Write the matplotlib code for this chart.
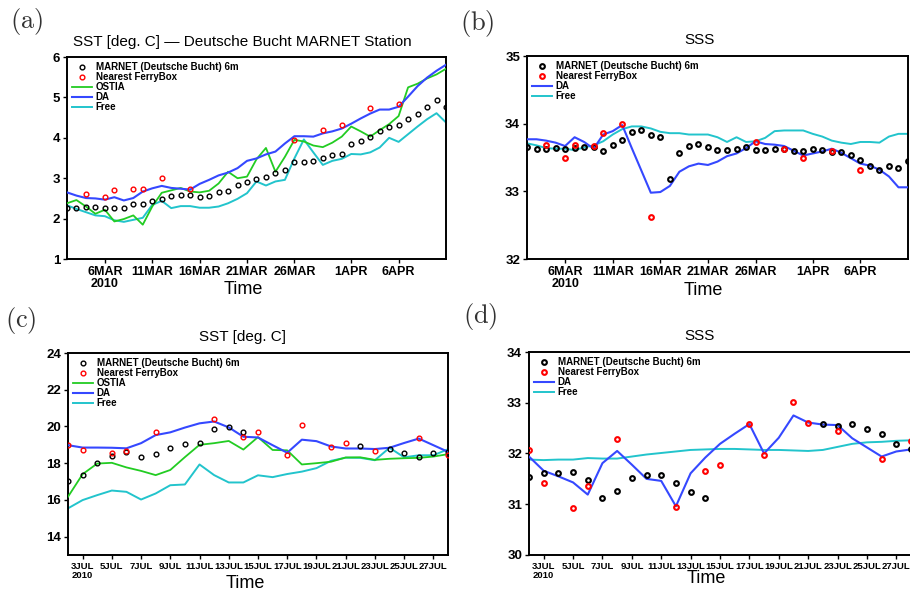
import numpy as np
import matplotlib.pyplot as plt

plt.rcParams['mathtext.fontset'] = 'cm'
plt.rcParams['font.family'] = ['Liberation Sans', 'DejaVu Sans']

# time axes
spring_days = np.arange(np.datetime64('2010-03-02'), np.datetime64('2010-04-12'))
summer_days = np.arange(np.datetime64('2010-07-02'), np.datetime64('2010-07-29'))

spring_ticks = np.array(['2010-03-06', '2010-03-11', '2010-03-16', '2010-03-21',
                         '2010-03-26', '2010-04-01', '2010-04-06'], dtype='datetime64[D]')
spring_labels = ['6MAR\n2010', '11MAR', '16MAR', '21MAR', '26MAR', '1APR', '6APR']
summer_ticks = np.arange(np.datetime64('2010-07-03'), np.datetime64('2010-07-28'), 2)
summer_labels = ['3JUL\n2010', '5JUL', '7JUL', '9JUL', '11JUL', '13JUL', '15JUL', '17JUL',
                 '19JUL', '21JUL', '23JUL', '25JUL', '27JUL']

# (a) SST, March-April
sst_a_marnet = [2.26, 2.26, 2.28, 2.29, 2.27, 2.27, 2.27, 2.37, 2.37, 2.44, 2.49, 2.57, 2.59, 2.59,
                2.53, 2.57, 2.65, 2.68, 2.83, 2.90, 2.97, 3.02, 3.13, 3.21, 3.39, 3.39, 3.43, 3.51,
                3.58, 3.60, 3.85, 3.91, 4.03, 4.16, 4.28, 4.33, 4.46, 4.58, 4.77, 4.93, 4.77]
ferry_spring_idx = [2, 4, 5, 7, 8, 10, 13, 24, 27, 29, 32, 35]
sst_a_ferry = [2.60, 2.54, 2.72, 2.74, 2.74, 3.01, 2.74, 3.94, 4.19, 4.33, 4.74, 4.85]
sst_a_ostia = [2.38, 2.46, 2.30, 2.12, 2.22, 1.93, 1.99, 2.08, 1.85, 2.30, 2.64, 2.70, 2.76, 2.67,
               2.65, 2.69, 2.87, 3.16, 3.00, 3.04, 3.47, 3.75, 3.16, 3.53, 3.95, 3.91, 3.81, 3.77,
               3.88, 4.03, 4.28, 4.16, 4.03, 4.19, 4.34, 4.54, 5.25, 5.34, 5.47, 5.57, 5.71]
sst_a_da = [2.65, 2.57, 2.51, 2.50, 2.47, 2.53, 2.45, 2.51, 2.67, 2.75, 2.81, 2.76, 2.74, 2.72,
            2.86, 2.96, 3.07, 3.14, 3.25, 3.43, 3.49, 3.59, 3.66, 3.86, 4.04, 4.04, 4.03, 4.11,
            4.16, 4.23, 4.35, 4.48, 4.60, 4.70, 4.70, 4.77, 5.02, 5.28, 5.49, 5.66, 5.81]
sst_a_free = [2.33, 2.24, 2.16, 2.08, 2.06, 1.96, 1.92, 1.97, 2.02, 2.34, 2.44, 2.26, 2.31, 2.31,
              2.27, 2.27, 2.30, 2.38, 2.49, 2.63, 2.92, 2.82, 2.92, 2.96, 3.49, 3.96, 3.64, 3.33,
              3.43, 3.48, 3.60, 3.59, 3.64, 3.76, 4.00, 3.90, 4.09, 4.28, 4.46, 4.61, 4.38]

# (b) SSS, March-April
sss_b_marnet = [33.66, 33.62, 33.62, 33.64, 33.62, 33.64, 33.65, 33.65, 33.60, 33.69, 33.76,
                33.88, 33.90, 33.84, 33.81, 33.19, 33.57, 33.67, 33.70, 33.66, 33.61, 33.61,
                33.63, 33.65, 33.61, 33.61, 33.62, 33.63, 33.59, 33.59, 33.63, 33.61, 33.58,
                33.58, 33.54, 33.46, 33.37, 33.32, 33.38, 33.34, 33.45]
sss_b_ferry = [33.68, 33.50, 33.68, 33.67, 33.86, 33.99, 32.62, 33.73, 33.63, 33.50, 33.60, 33.31]
sss_b_da = [33.77, 33.77, 33.75, 33.72, 33.67, 33.80, 33.73, 33.63, 33.84, 33.89, 33.98, 33.64,
            33.31, 32.98, 32.99, 33.08, 33.29, 33.37, 33.41, 33.39, 33.44, 33.52, 33.56, 33.64,
            33.74, 33.70, 33.69, 33.67, 33.60, 33.53, 33.56, 33.59, 33.63, 33.57, 33.49, 33.41,
            33.38, 33.32, 33.22, 33.06, 33.06]
sss_b_free = [33.71, 33.68, 33.64, 33.63, 33.63, 33.61, 33.65, 33.68, 33.74, 33.84, 33.92, 33.96,
              33.96, 33.93, 33.88, 33.86, 33.86, 33.84, 33.84, 33.84, 33.80, 33.73, 33.80, 33.73,
              33.74, 33.79, 33.89, 33.90, 33.90, 33.90, 33.85, 33.81, 33.75, 33.72, 33.70, 33.73,
              33.73, 33.72, 33.81, 33.85, 33.85]

# (c) SST, July
nan = np.nan
sst_c_marnet = [17.04, 17.36, 18.03, 18.39, 18.62, 18.35, 18.48, 18.80, 19.04, 19.12, 19.85,
                19.95, 19.69, nan, nan, nan, nan, nan, nan, nan, 18.91, nan, 18.75, 18.55,
                18.35, 18.57, 18.60]
ferry_c_idx = [0, 1, 3, 4, 6, 10, 12, 13, 15, 16, 18, 19, 21, 24, 26]
sst_c_ferry = [18.98, 18.71, 18.56, 18.64, 19.72, 20.43, 19.40, 19.69, 18.44, 20.10, 18.87,
               19.11, 18.64, 19.36, 18.45]
sst_c_ostia = [16.17, 17.40, 17.98, 18.02, 17.77, 17.58, 17.35, 17.63, 18.33, 19.00, 19.09, 19.21,
               18.74, 19.42, 18.72, 18.70, 17.93, 18.00, 18.08, 18.31, 18.32, 18.18, 18.24,
               18.27, 18.29, 18.36, 18.49]
sst_c_da = [18.98, 18.85, 18.85, 18.84, 18.81, 19.09, 19.53, 19.68, 19.94, 20.17, 20.27, 19.95,
            19.44, 19.40, 18.98, 18.57, 19.28, 19.20, 18.91, 18.80, 18.80, 18.77, 18.84, 19.10,
            19.34, 18.98, 18.62]
sst_c_free = [15.54, 15.99, 16.26, 16.51, 16.44, 16.02, 16.35, 16.80, 16.84, 17.93, 17.35, 16.95,
              16.95, 17.34, 17.24, 17.41, 17.54, 17.73, 18.13, 18.30, 18.29, 18.16, 18.84, 18.32,
              18.43, 18.43, 18.76]

# (d) SSS, July
sss_d_marnet = [31.53, 31.61, 31.61, 31.64, 31.47, 31.13, 31.26, 31.52, 31.58, 31.58, 31.41,
                31.24, 31.12, nan, nan, nan, nan, nan, nan, nan, 32.59, 32.54, 32.59, 32.48,
                32.39, 32.18, 32.08]
ferry_d_idx = [0, 1, 3, 4, 6, 10, 12, 13, 15, 16, 18, 19, 21, 24, 26]
sss_d_ferry = [32.06, 31.41, 30.92, 31.35, 32.28, 30.95, 31.66, 31.77, 32.58, 31.97, 33.02,
               32.61, 32.45, 31.90, 32.24]
sss_d_da = [31.94, 31.66, 31.55, 31.43, 31.19, 31.81, 32.05, 31.78, 31.50, 31.46, 30.96, 31.61,
            31.92, 32.19, 32.39, 32.58, 32.00, 32.31, 32.75, 32.61, 32.57, 32.56, 32.30, 32.12,
            31.94, 32.04, 32.08]
sss_d_free = [31.88, 31.87, 31.88, 31.88, 31.91, 31.90, 31.90, 31.94, 31.98, 32.01, 32.04, 32.07,
              32.08, 32.09, 32.09, 32.08, 32.07, 32.07, 32.06, 32.05, 32.07, 32.13, 32.19,
              32.22, 32.23, 32.25, 32.26]

GREEN = '#22cc22'
BLUE = '#3548ff'
CYAN = '#22c4cc'


def draw_panel(ax, days, marnet, ferry_idx, ferry, ostia, da, free, ylim, yticks,
               ticks, tick_labels, title, title_xy, time_xy, xtick_size, filled):
    mew = 1.5 if filled else 1.0
    ax.plot(days, marnet, 'o', color='black', mfc='none', ms=3.4, mew=mew,
            label='MARNET (Deutsche Bucht) 6m', zorder=5)
    ax.plot(days[ferry_idx], ferry, 'o', color='red', mfc='none', ms=3.4, mew=mew,
            label='Nearest FerryBox', zorder=5)
    if ostia is not None:
        ax.plot(days, ostia, color=GREEN, lw=1.3, label='OSTIA', zorder=3)
    ax.plot(days, da, color=BLUE, lw=1.5, label='DA', zorder=3)
    ax.plot(days, free, color=CYAN, lw=1.4, label='Free', zorder=2)

    ax.set_xlim(days[0], days[-1])
    ax.set_ylim(*ylim)
    ax.set_yticks(yticks)
    ax.set_xticks(ticks)
    ax.set_xticklabels(tick_labels, fontsize=xtick_size, fontweight='bold', linespacing=0.95)
    for lab in ax.get_yticklabels():
        lab.set_fontsize(9.5)
        lab.set_fontweight('bold')
    ax.tick_params(direction='out', length=3, width=1, pad=2)
    for sp in ax.spines.values():
        sp.set_linewidth(1.4)

    ax.text(title_xy[0], title_xy[1], title, transform=ax.transAxes, ha='center',
            va='center', fontsize=11)
    ax.text(time_xy[0], time_xy[1], 'Time', transform=ax.transAxes, ha='center',
            va='center', fontsize=13)

    ax.legend(loc='upper left', bbox_to_anchor=(0.012, 0.975), frameon=False,
              prop={'size': 7, 'weight': 'bold'}, handlelength=2.1, handletextpad=0.4,
              labelspacing=0.0, borderpad=0, borderaxespad=0, numpoints=1)


def main():
    fig = plt.figure(figsize=(9.1, 5.93), dpi=100)
    ax_a = fig.add_axes([0.0736, 0.5632, 0.4165, 0.3406])
    ax_b = fig.add_axes([0.5791, 0.5632, 0.4187, 0.3423])
    ax_c = fig.add_axes([0.0747, 0.0641, 0.4176, 0.3406])
    ax_d = fig.add_axes([0.5813, 0.0641, 0.4198, 0.3423])

    draw_panel(ax_a, spring_days, sst_a_marnet, ferry_spring_idx, sst_a_ferry, sst_a_ostia,
               sst_a_da, sst_a_free, (1, 6), range(1, 7), spring_ticks, spring_labels,
               'SST [deg. C] \u2014 Deutsche Bucht MARNET Station', (0.462, 1.074),
               (0.464, -0.153), 9, False)
    draw_panel(ax_b, spring_days, sss_b_marnet, ferry_spring_idx, sss_b_ferry, None,
               sss_b_da, sss_b_free, (32, 35), range(32, 36), spring_ticks, spring_labels,
               'SSS', (0.454, 1.079), (0.464, -0.153), 9, True)
    draw_panel(ax_c, summer_days, sst_c_marnet, ferry_c_idx, sst_c_ferry, sst_c_ostia,
               sst_c_da, sst_c_free, (13, 24), range(14, 25, 2), summer_ticks, summer_labels,
               'SST [deg. C]', (0.458, 1.081), (0.466, -0.14), 6.8, False)
    draw_panel(ax_d, summer_days, sss_d_marnet, ferry_d_idx, sss_d_ferry, None,
               sss_d_da, sss_d_free, (30, 34), range(30, 35), summer_ticks, summer_labels,
               'SSS', (0.447, 1.08), (0.464, -0.115), 6.8, True)

    for lab, x, y in [('(a)', 10, 6), ('(b)', 460, 8), ('(c)', 5, 305), ('(d)', 463, 301)]:
        fig.text(x / 910, 1 - y / 593, r'$\mathrm{' + lab + '}$', fontsize=19,
                 ha='left', va='top', color='#333333')

    fig.savefig('out.png', dpi=100)


if __name__ == '__main__':
    main()
